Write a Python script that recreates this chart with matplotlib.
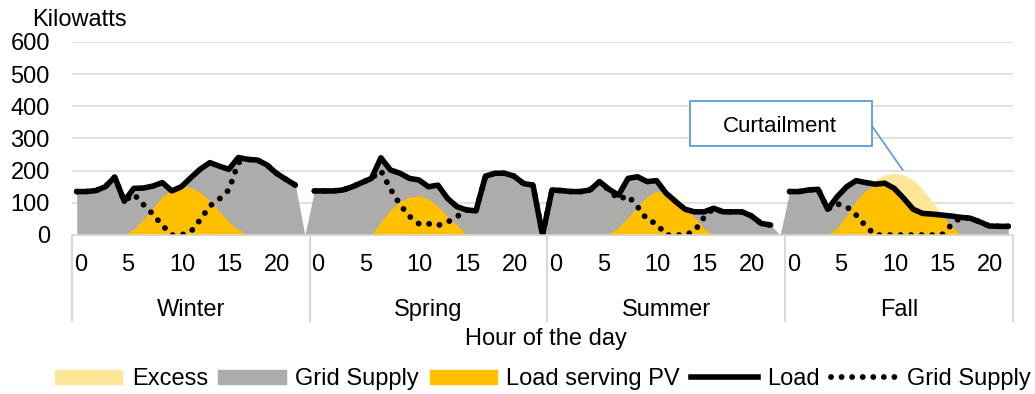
import numpy as np
import matplotlib.pyplot as plt
from matplotlib.patches import Patch, Rectangle
from matplotlib.lines import Line2D

plt.rcParams['font.family'] = ['Liberation Sans', 'DejaVu Sans']

seasons = ['Winter', 'Spring', 'Summer', 'Fall']
hour_ticks = [0, 5, 10, 15, 20]

# load (kW), hour 0..23
load_winter = [135, 135, 138, 150, 180, 105, 145, 146, 152, 163, 137, 150,
               178, 205, 225, 214, 204, 241, 235, 233, 218, 192, 173, 155]
load_spring = [137, 137, 137, 140, 150, 163, 176, 240, 202, 192, 176, 171,
               150, 155, 114, 88, 78, 75, 183, 192, 192, 183, 160, 155]
load_summer = [140, 138, 135, 135, 140, 166, 142, 124, 176, 181, 166, 169,
               130, 104, 80, 72, 72, 83, 72, 72, 72, 59, 36, 31]
load_fall = [135, 135, 140, 142, 80, 119, 150, 169, 163, 158, 161, 145,
             114, 80, 67, 65, 62, 59, 55, 52, 41, 28, 27, 27]

# total PV output (excess shows where it exceeds the load)
pv_winter = [0, 0, 0, 0, 0, 0, 18, 47, 84, 119, 142, 152,
             148, 132, 106, 74, 42, 16, 0, 0, 0, 0, 0, 0]
pv_spring = [0, 0, 0, 0, 0, 0, 0, 41, 78, 104, 118, 122,
             112, 88, 59, 31, 0, 0, 0, 0, 0, 0, 0, 0]
pv_summer = [0, 0, 0, 0, 0, 0, 3, 24, 55, 88, 119, 137,
             135, 121, 90, 55, 20, 0, 0, 0, 0, 0, 0, 0]
pv_fall = [0, 0, 0, 0, 0, 22, 62, 107, 138, 171, 187, 192,
           187, 171, 142, 104, 65, 28, 0, 0, 0, 0, 0, 0]

# PV going to the load
served_winter = [0, 0, 0, 0, 0, 0, 18, 47, 84, 119, 142, 152,
                 148, 132, 106, 74, 42, 16, 0, 0, 0, 0, 0, 0]
served_spring = [0, 0, 0, 0, 0, 0, 0, 41, 78, 104, 118, 122,
                 112, 88, 59, 31, 0, 0, 0, 0, 0, 0, 0, 0]
served_summer = [0, 0, 0, 0, 0, 0, 3, 24, 55, 88, 119, 137,
                 130, 104, 80, 55, 20, 0, 0, 0, 0, 0, 0, 0]
served_fall = [0, 0, 0, 0, 0, 22, 62, 107, 138, 158, 161, 145,
               114, 80, 67, 65, 62, 28, 0, 0, 0, 0, 0, 0]

# remaining grid supply
grid_winter = [135, 135, 138, 150, 180, 105, 127, 95, 65, 30, 0, 0,
               10, 48, 90, 112, 140, 225, 235, 233, 218, 192, 173, 155]
grid_spring = [137, 137, 137, 140, 150, 163, 176, 200, 143, 95, 58, 35,
               35, 30, 40, 57, 78, 75, 183, 192, 192, 183, 160, 155]
grid_summer = [140, 138, 135, 135, 140, 166, 139, 111, 122, 88, 48, 35,
               0, 0, 0, 12, 55, 83, 72, 72, 72, 59, 36, 31]
grid_fall = [135, 135, 140, 142, 80, 97, 88, 62, 28, 0, 0, 0,
             0, 0, 0, 0, 0, 31, 55, 52, 41, 28, 27, 27]

# rows between seasons (blank, zero, blank)
gap_rows = [np.nan, 0, np.nan]


def join(parts):
    out = []
    for i, p in enumerate(parts):
        out += p
        if i < len(gap_rows):
            out.append(gap_rows[i])
    return np.array(out, dtype=float)


load = join([load_winter, load_spring, load_summer, load_fall])
pv = join([pv_winter, pv_spring, pv_summer, pv_fall])
served = join([served_winter, served_spring, served_summer, served_fall])
grid = join([grid_winter, grid_spring, grid_summer, grid_fall])
x = np.arange(len(load)) + 0.5
group = 25

dots = (0, (0.01, 1.8))

fig = plt.figure(figsize=(10.35, 3.94), dpi=100)
ax = fig.add_axes([72 / 1035, 1 - 235 / 394, 941 / 1035, 193 / 394])

ax.fill_between(x, 0, np.nan_to_num(pv), color='#FFE699', lw=0)
ax.fill_between(x, 0, np.nan_to_num(load), color='#AEABAB', lw=0)
ax.fill_between(x, 0, np.nan_to_num(served), color='#FFC000', lw=0)
ax.plot(x, grid, color='black', lw=4.2, linestyle=dots,
        dash_capstyle='round')
ax.plot(x, load, color='black', lw=4.0, solid_joinstyle='round',
        solid_capstyle='round')

ax.set_xlim(0, len(load))
ax.set_ylim(0, 600)
ax.set_yticks(range(0, 601, 100))
ax.yaxis.grid(True, color='#D9D9D9', lw=1.1)
ax.set_axisbelow(True)
for s in ['top', 'right', 'left']:
    ax.spines[s].set_visible(False)
ax.spines['bottom'].set_color('#D9D9D9')
ax.spines['bottom'].set_linewidth(1.1)

tick_pos = [s * group + h + 0.2 for s in range(4) for h in hour_ticks]
tick_lab = [str(h) for s in range(4) for h in hour_ticks]
ax.set_xticks(tick_pos)
ax.set_xticklabels(tick_lab)
for t in ax.get_xticklabels():
    t.set_ha('left')
ax.tick_params(axis='x', length=0, pad=13.5, labelsize=17)
ax.tick_params(axis='y', length=0, pad=16, labelsize=17)

xtr = ax.get_xaxis_transform()
bounds = [0, group, 2 * group, 3 * group, len(load)]
ax.vlines(bounds, -0.45, 0, transform=xtr, colors='#D9D9D9', lw=1.5,
          clip_on=False)
for s, name in enumerate(seasons):
    ax.text((bounds[s] + bounds[s + 1]) / 2, -0.39, name, transform=xtr,
            ha='center', va='center', fontsize=17)

fig.text(546 / 1035, 1 - 339 / 394, 'Hour of the day', ha='center',
         va='center', fontsize=17)
fig.text(32 / 1035, 1 - 20 / 394, 'Kilowatts', ha='left', va='center',
         fontsize=17)

# curtailment callout
fig.add_artist(Rectangle((690 / 1035, 1 - 146 / 394), 182 / 1035, 45 / 394,
                         transform=fig.transFigure, facecolor='white',
                         edgecolor='#5B9BD5', lw=1.3))
fig.text(780 / 1035, 1 - 126 / 394, 'Curtailment', ha='center', va='center',
         fontsize=16)
ax.annotate('', xy=(3 * group + 11.9 + 0.5, 202), xycoords='data',
            xytext=(872 / 1035, 1 - 126 / 394), textcoords='figure fraction',
            arrowprops=dict(arrowstyle='-', color='#5B9BD5', lw=1.2,
                            shrinkA=0, shrinkB=0))

handles = [Patch(color='#FFE699'), Patch(color='#AEABAB'),
           Patch(color='#FFC000'),
           Line2D([], [], color='black', lw=4.0),
           Line2D([], [], color='black', lw=4.2, linestyle=dots,
                  dash_capstyle='round')]
labels = ['Excess', 'Grid Supply', 'Load serving PV', 'Load', 'Grid Supply']
fig.legend(handles, labels, loc='center', ncol=5, frameon=False,
           bbox_to_anchor=(543 / 1035, 1 - 379 / 394), fontsize=17,
           handlelength=2.85, handleheight=0.55, handletextpad=0.4,
           columnspacing=0.45)

fig.savefig('out.png', dpi=100)
